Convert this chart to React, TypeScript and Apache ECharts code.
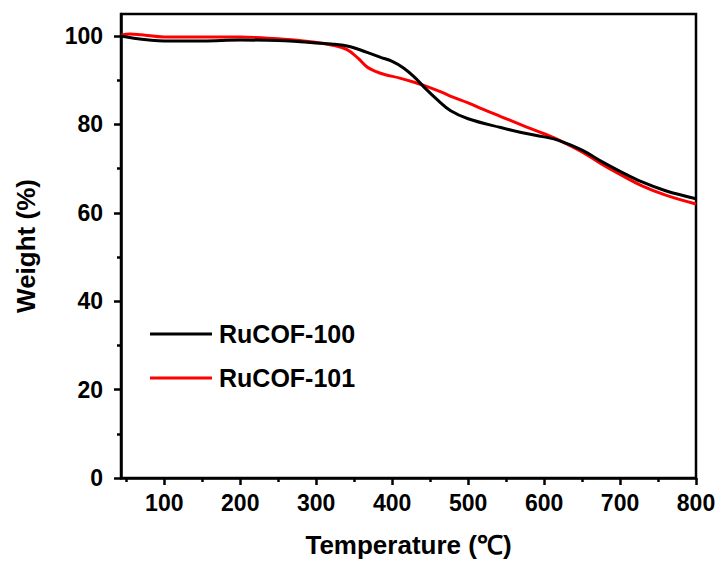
import React, { useEffect, useRef } from "react";
import * as echarts from "echarts";

const tempA = [43, 60, 80, 100, 150, 200, 250, 279, 320, 345, 367, 385, 400, 415, 430, 444, 460, 477, 500, 543, 570, 600, 619, 650, 676, 700, 729, 760, 800];
const ruCOF100 = [100.0, 99.5, 99.1, 98.9, 98.9, 99.1, 99.0, 98.7, 98.2, 97.6, 96.3, 95.2, 94.3, 92.8, 90.6, 88.1, 85.5, 83.1, 81.3, 79.3, 78.2, 77.2, 76.4, 74.2, 71.6, 69.4, 67.0, 65.0, 63.2];

const tempB = [43, 55, 70, 100, 150, 200, 220, 250, 290, 320, 340, 355, 367, 378, 390, 410, 430, 447, 465, 480, 500, 520, 543, 570, 600, 619, 650, 676, 700, 729, 760, 800];
const ruCOF101 = [100.2, 100.5, 100.3, 99.8, 99.8, 99.8, 99.7, 99.4, 98.8, 98.0, 97.0, 95.0, 93.0, 92.0, 91.3, 90.5, 89.5, 88.5, 87.3, 86.2, 84.9, 83.4, 81.8, 79.9, 77.9, 76.5, 73.8, 71.0, 68.7, 66.1, 64.0, 62.0];

const xMajor = [100, 200, 300, 400, 500, 600, 700, 800];
const xMinor = [50, 150, 250, 350, 450, 550, 650, 750];
const yMajor = [0, 20, 40, 60, 80, 100];
const yMinor = [10, 30, 50, 70, 90];

const FONT = "'Liberation Sans', Arial, sans-serif";

export default function App() {
  const ref = useRef<HTMLDivElement>(null);
  useEffect(() => {
    if (!ref.current) return;
    const chart = echarts.init(ref.current, undefined, { renderer: "svg" });
    const lineW = 2.5;
    const tick = { fontSize: 23, fontWeight: "bold", color: "#000", fontFamily: FONT };
    const title = { fontSize: 26, fontWeight: "bold", color: "#000", fontFamily: FONT };
    chart.setOption({
      animation: false,
      backgroundColor: "#fff",
      textStyle: { fontFamily: FONT },
      grid: {
        left: 121,
        right: 24,
        top: 14,
        bottom: 83,
        show: true,
        borderColor: "#000",
        borderWidth: lineW,
      },
      legend: {
        orient: "vertical",
        left: 145,
        top: 316,
        icon: "rect",
        itemWidth: 62,
        itemHeight: 3,
        itemGap: 18,
        data: ["RuCOF-100", "RuCOF-101"],
        textStyle: {
          fontSize: 25,
          fontWeight: "bold",
          color: "#000",
          fontFamily: FONT,
          lineHeight: 26,
          padding: [0, 0, 0, 2],
        },
      },
      xAxis: [
        {
          type: "value",
          min: 43,
          max: 800,
          name: "Temperature (℃)",
          nameLocation: "middle",
          nameGap: 54,
          nameTextStyle: title,
          axisLine: { show: true, onZero: false, lineStyle: { color: "#000", width: lineW } },
          axisTick: { show: true, customValues: xMajor, length: 7, lineStyle: { color: "#000", width: lineW } },
          axisLabel: { customValues: xMajor, margin: 13, ...tick },
          splitLine: { show: false },
        },
        {
          type: "value",
          min: 43,
          max: 800,
          position: "bottom",
          axisLine: { show: false },
          axisTick: { show: true, customValues: xMinor, length: 4, lineStyle: { color: "#000", width: lineW } },
          axisLabel: { show: false },
          splitLine: { show: false },
        },
      ],
      yAxis: [
        {
          type: "value",
          min: 0,
          max: 105,
          name: "Weight (%)",
          nameLocation: "middle",
          nameGap: 82,
          nameTextStyle: title,
          axisLine: { show: true, onZero: false, lineStyle: { color: "#000", width: lineW } },
          axisTick: { show: true, customValues: yMajor, length: 7, lineStyle: { color: "#000", width: lineW } },
          axisLabel: { customValues: yMajor, margin: 18, ...tick },
          splitLine: { show: false },
        },
        {
          type: "value",
          min: 0,
          max: 105,
          position: "left",
          axisLine: { show: false },
          axisTick: { show: true, customValues: yMinor, length: 4, lineStyle: { color: "#000", width: lineW } },
          axisLabel: { show: false },
          splitLine: { show: false },
        },
      ],
      series: [
        {
          name: "RuCOF-101",
          type: "line",
          smooth: 0.4,
          symbol: "none",
          showSymbol: false,
          z: 2,
          lineStyle: { color: "#f00", width: 3 },
          itemStyle: { color: "#f00" },
          data: tempB.map((t, i) => [t, ruCOF101[i]]),
        },
        {
          name: "RuCOF-100",
          type: "line",
          smooth: 0.4,
          symbol: "none",
          showSymbol: false,
          z: 3,
          lineStyle: { color: "#000", width: 3 },
          itemStyle: { color: "#000" },
          data: tempA.map((t, i) => [t, ruCOF100[i]]),
        },
      ],
    });
    return () => chart.dispose();
  }, []);
  return (
    <div
      ref={ref}
      style={{ position: "absolute", left: 0, top: 0, width: 720, height: 563 }}
    />
  );
}
